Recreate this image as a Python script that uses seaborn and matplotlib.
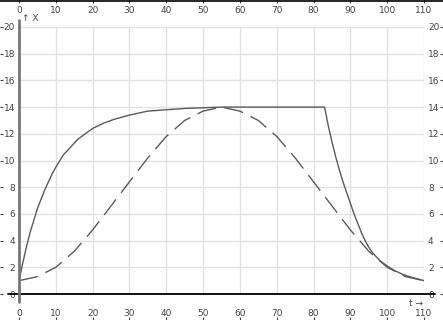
import matplotlib
matplotlib.use("Agg")
import matplotlib.pyplot as plt
from matplotlib.lines import Line2D
import seaborn as sns
import pandas as pd

# solid curve (T)
t_solid = [0, 1, 2, 3, 4, 5, 6, 7, 8, 9, 10, 12, 14, 16, 18, 20, 23, 26, 30, 35, 40, 45, 50, 55, 60, 70, 83,
           84, 85, 86, 87, 88, 89, 90, 91, 92, 93, 94, 95, 96, 97, 98, 99, 100, 102, 104, 106, 108, 110]
y_solid = [1.0, 2.3, 3.5, 4.6, 5.5, 6.4, 7.1, 7.8, 8.4, 9.0, 9.5, 10.4, 11.0, 11.6, 12.0, 12.4, 12.8, 13.1, 13.4, 13.7, 13.8, 13.9, 13.95, 14.0, 14.0, 14.0, 14.0,
           12.6, 11.4, 10.3, 9.3, 8.4, 7.6, 6.8, 6.0, 5.3, 4.6, 4.0, 3.5, 3.1, 2.8, 2.5, 2.3, 2.1, 1.75, 1.5, 1.3, 1.15, 1.0]

# dashed curve (X)
t_dash = [0, 5, 10, 15, 20, 25, 30, 35, 40, 45, 50, 55, 60, 65, 70, 75, 80, 85, 90, 95, 100, 105, 110]
y_dash = [1.0, 1.3, 2.0, 3.2, 4.8, 6.6, 8.4, 10.2, 11.8, 13.0, 13.7, 14.0, 13.7, 13.0, 11.8, 10.2, 8.4, 6.6, 4.8, 3.2, 2.0, 1.3, 1.0]

x_ticks = list(range(0, 111, 10))
y_ticks = list(range(0, 21, 2))

df_s = pd.DataFrame({"t": t_solid, "v": y_solid})
df_d = pd.DataFrame({"t": t_dash, "v": y_dash})

sns.set_theme(style="white")
plt.rcParams['font.family'] = ['DejaVu Sans']

W, H = 443, 320
fig = plt.figure(figsize=(W / 100, H / 100), dpi=100)
ax = fig.add_axes([19 / W, (H - 294) / H, 405 / W, 267 / H])

line_col = "#5a5a5a"
sns.lineplot(data=df_s, x="t", y="v", ax=ax, color=line_col, lw=1.0, sort=False)
sns.lineplot(data=df_d, x="t", y="v", ax=ax, color=line_col, lw=1.0, dashes=False,
             linestyle=(0, (14, 6)), sort=False)

ax.set_xlim(0, 110)
ax.set_ylim(0, 20)
ax.set_xlabel("")
ax.set_ylabel("")
for s in ax.spines.values():
    s.set_visible(False)

ax.set_xticks(x_ticks)
ax.set_yticks(y_ticks)
ax.grid(True, color="#e2e2e2", lw=1.0)
ax.set_axisbelow(True)

lab_col = "#444444"
ax.tick_params(axis="x", which="both", length=0, top=False, bottom=False,
               labeltop=False, labelbottom=True, pad=10.5, labelsize=6.5, labelcolor=lab_col)
ax.tick_params(axis="y", which="both", length=0, left=False, right=False,
               labelleft=True, labelright=True, pad=2.8, labelsize=6.5, labelcolor=lab_col)

top = ax.secondary_xaxis("top")
top.set_xticks(x_ticks)
top.tick_params(axis="x", length=0, pad=8.5, labelsize=6.5, labelcolor=lab_col)
top.spines["top"].set_visible(False)

# small edge tick marks (frame of the picture)
axv = fig.add_axes([19 / W, 0, 405 / W, 1], facecolor="none")
axv.set_xlim(0, 110)
axv.set_xticks(x_ticks)
axv.set_yticks([])
axv.tick_params(axis="x", direction="in", length=2, width=0.8, color="#444444",
                top=True, bottom=True, labelbottom=False, labeltop=False)
for s in axv.spines.values():
    s.set_visible(False)
axh = fig.add_axes([0, (H - 294) / H, 1, 267 / H], facecolor="none")
axh.set_ylim(0, 20)
axh.set_yticks(y_ticks)
axh.set_xticks([])
axh.tick_params(axis="y", direction="in", length=2.5, width=0.8, color="#444444",
                left=True, right=True, labelleft=False, labelright=False)
for s in axh.spines.values():
    s.set_visible(False)

# axis lines
ax.plot([-3, 113], [0, 0], color="black", lw=1.3, clip_on=False, zorder=5)
ax.plot([0, 0], [-0.6, 20.5], color="#777777", lw=2.0, clip_on=False, zorder=5)
fig.add_artist(Line2D([0, 1], [0.998, 0.998], transform=fig.transFigure, color="black", lw=1.2))

ax.text(0.9, 20.6, "↑ X", fontsize=6.5, color=lab_col, ha="left", va="center")
ax.text(109.8, -0.35, "t →", fontsize=6.5, color=lab_col, ha="right", va="top")

fig.savefig("out.png", dpi=100)
